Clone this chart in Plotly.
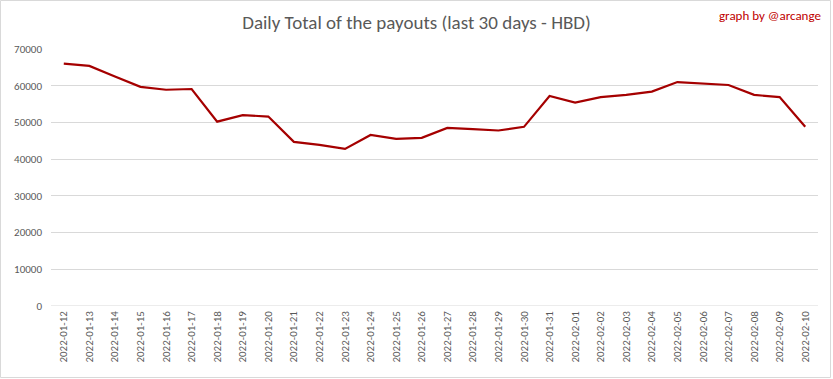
import plotly.graph_objects as go

dates = ["2022-01-12","2022-01-13","2022-01-14","2022-01-15","2022-01-16","2022-01-17",
         "2022-01-18","2022-01-19","2022-01-20","2022-01-21","2022-01-22","2022-01-23",
         "2022-01-24","2022-01-25","2022-01-26","2022-01-27","2022-01-28","2022-01-29",
         "2022-01-30","2022-01-31","2022-02-01","2022-02-02","2022-02-03","2022-02-04",
         "2022-02-05","2022-02-06","2022-02-07","2022-02-08","2022-02-09","2022-02-10"]
payouts = [66000, 65400, 62500, 59700, 58900, 59100, 50200, 52000, 51600, 44700,
           43900, 42800, 46600, 45500, 45800, 48500, 48200, 47800, 48800, 57200,
           55400, 56900, 57500, 58400, 61000, 60600, 60200, 57500, 56900, 48800]
y_ticks = [0, 10000, 20000, 30000, 40000, 50000, 60000, 70000]

font_fam = "Carlito, Calibri, Lato, sans-serif"
W, H = 833, 379
L, R, T, B = 51, 15, 49, 73
PW, PH = W - L - R, H - T - B

fig = go.Figure()
fig.add_trace(go.Scatter(x=list(range(len(dates))), y=payouts, mode="lines",
                         line=dict(color="#A50000", width=2.2), hoverinfo="skip"))

fig.update_layout(
    width=W, height=H,
    margin=dict(l=L, r=R, t=T, b=B, autoexpand=False),
    paper_bgcolor="white", plot_bgcolor="white",
    showlegend=False,
    title=dict(text="Daily Total of the payouts (last 30 days - HBD)",
               x=0.5, xanchor="center", xref="container",
               y=1 - 22/H, yanchor="middle", yref="container",
               font=dict(family=font_fam, size=19, color="#595959")),
    xaxis=dict(range=[-0.5, len(dates) - 0.5], tickmode="array",
               tickvals=list(range(len(dates))), ticktext=dates, tickangle=-90,
               showgrid=False, zeroline=False, showline=False, ticks="",
               automargin=False, ticklabelstandoff=2,
               tickfont=dict(family=font_fam, size=11, color="#595959")),
    yaxis=dict(range=[0, 70000], tickmode="array", tickvals=y_ticks,
               ticktext=[str(v) for v in y_ticks],
               showgrid=True, gridcolor="#D9D9D9", gridwidth=1, zeroline=False,
               showline=False, ticks="", ticklabelstandoff=8, automargin=False,
               tickfont=dict(family=font_fam, size=11, color="#595959")),
    shapes=[dict(type="rect", xref="paper", yref="paper", x0=-(L - 0.5)/PW, x1=1 + (R - 2.5)/PW,
                 y0=-(B - 1.5)/PH, y1=1 + (T - 0.5)/PH, line=dict(color="#D9D9D9", width=1),
                 fillcolor="rgba(0,0,0,0)", layer="below"),
            dict(type="line", xref="paper", yref="y", x0=0, x1=1, y0=0, y1=0,
                 line=dict(color="#D9D9D9", width=1))],
    annotations=[dict(text="graph by @arcange", xref="paper", yref="paper",
                      x=1 + 5/PW, y=1 + (T - 15)/PH, xanchor="right", yanchor="middle",
                      showarrow=False,
                      font=dict(family=font_fam, size=13, color="#C00000"))],
)

fig.write_html("out.html", config={"displayModeBar": False},
               post_script="document.body.style.margin='0';document.body.style.overflow='hidden';")
